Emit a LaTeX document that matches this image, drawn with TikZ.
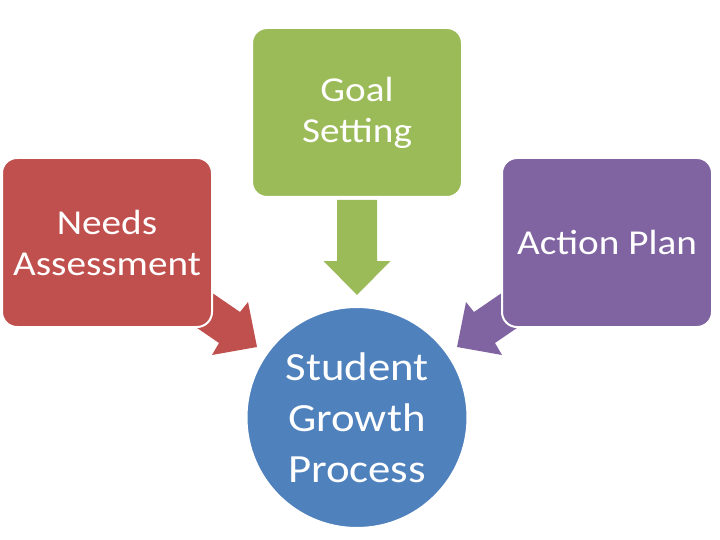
\documentclass[tikz,border=0pt]{standalone}
\usepackage{fontspec}
\newfontfamily\carl{Carlito}[FakeStretch=1.12]
\definecolor{cgreen}{HTML}{9BBB59}
\definecolor{cred}{HTML}{C0504D}
\definecolor{cpurple}{HTML}{8064A2}
\definecolor{cblue}{HTML}{4F81BD}
\tikzset{
  boxnode/.style={rectangle, rounded corners=15pt, draw=white, line width=2pt,
    minimum width=210pt, minimum height=169pt, text=white, align=center,
    font=\carl\fontsize{35}{41}\selectfont, inner sep=0pt},
  blockarrow/.style={draw=none}
}
\begin{document}
\begin{tikzpicture}[x=1pt,y=-1pt]
\useasboundingbox (0,0) rectangle (720,540);
% arrows (drawn first, backs hidden under boxes)
\fill[cred] (190.4,278.0) -- (240,312) -- (248,302) -- (257,347) -- (212,355) -- (219,343) -- (169.4,309.0) -- cycle;
\fill[cpurple] (523.6,278.0) -- (474,312) -- (466,302) -- (457,347) -- (502,355) -- (495,343) -- (544.6,309.0) -- cycle;
\fill[cgreen] (337,200) -- (377,200) -- (377,261) -- (390.5,261) -- (357,295) -- (323.5,261) -- (337,261) -- cycle;
% boxes
\node[boxnode, fill=cgreen] (goal) at (357,112.5) {Goal\\Setting};
\node[boxnode, fill=cred] (needs) at (107,242.5) {Needs\\Assessment};
\node[boxnode, fill=cpurple] (action) at (607,242.5) {Action Plan};
\node[circle, fill=cblue, draw=white, line width=2pt, minimum size=221pt, inner sep=0pt,
  text=white, align=center, font=\carl\fontsize{40}{51}\selectfont] (sgp) at (357,417.5) {Student\\Growth\\Process};
\end{tikzpicture}
\end{document}
